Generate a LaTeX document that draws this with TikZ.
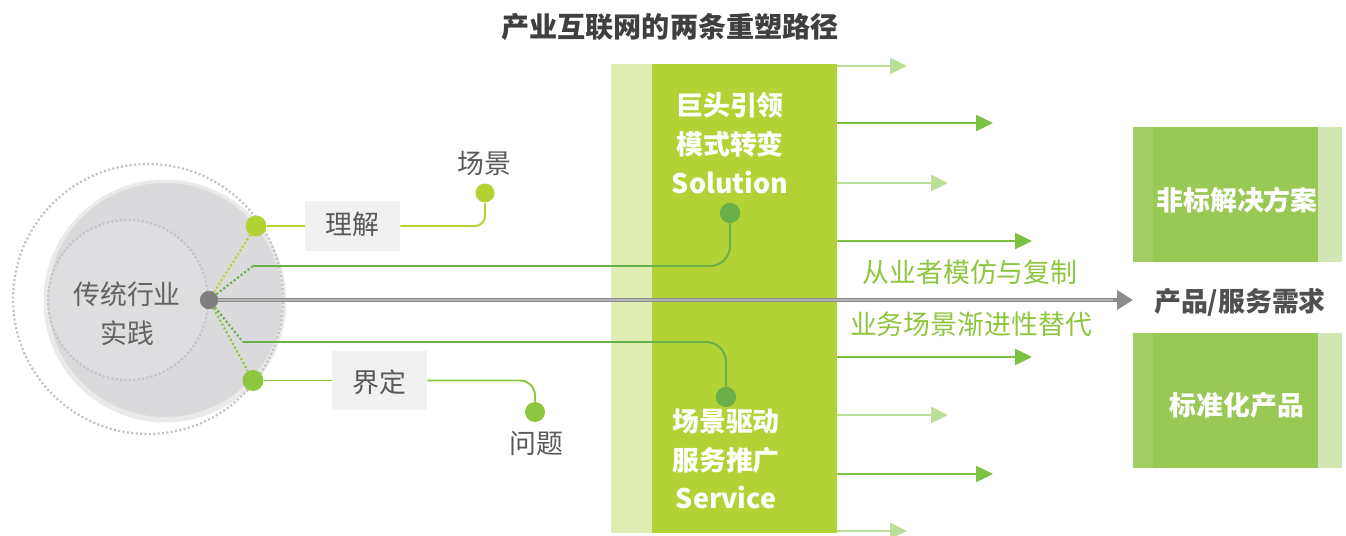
\documentclass[tikz,border=0pt]{standalone}
\usepackage{fontspec}
\setmainfont{Noto Sans CJK SC}
\usetikzlibrary{arrows.meta}
\definecolor{haloc}{HTML}{EAEAEB}
\definecolor{discc}{HTML}{DADADC}
\definecolor{innerc}{HTML}{DEDEE0}
\definecolor{dotc}{HTML}{C4C4C6}
\definecolor{ctext}{HTML}{626262}
\definecolor{lblc}{HTML}{595959}
\definecolor{boxg}{HTML}{F1F1F1}
\definecolor{ygreen}{HTML}{B3D335}
\definecolor{mgreen}{HTML}{8DC63F}
\definecolor{dgreen}{HTML}{6AAF47}
\definecolor{colL}{HTML}{DFEDB3}
\definecolor{colG}{HTML}{B2D235}
\definecolor{arrD}{HTML}{7DC142}
\definecolor{arrL}{HTML}{BADF98}
\definecolor{rbG}{HTML}{98C954}
\definecolor{rbL}{HTML}{A0CE62}
\definecolor{rbR}{HTML}{D1E6B2}
\definecolor{gtxt}{HTML}{8DC63F}
\definecolor{titlec}{HTML}{3F3F3F}
\definecolor{darkt}{HTML}{505050}
\definecolor{cdot}{HTML}{7F7F7F}
\definecolor{shaft}{HTML}{8C8C8C}
\definecolor{shaftL}{HTML}{B4B4B4}
\begin{document}
\begin{tikzpicture}[x=0.02cm,y=-0.02cm,
  txt/.style={inner sep=0pt, font=\fontsize{15.3pt}{22pt}\selectfont},
  boldtxt/.style={inner sep=0pt, font=\fontsize{15.3pt}{22pt}\selectfont\bfseries},
  pxbox/.style={rectangle, inner sep=0pt, draw=none},
  pxdot/.style={circle, inner sep=0pt, minimum size=#1},
  dotline/.style={line width=1.2pt, dash pattern=on 1.2pt off 1.3pt},
  thinline/.style={line width=1.1pt},
  arrowDark/.style={draw=arrD, line width=1.4pt, -{Triangle[length=0.34cm,width=0.32cm,fill=arrD]}},
  arrowLight/.style={draw=arrL, line width=1.4pt, -{Triangle[length=0.34cm,width=0.32cm,fill=arrL]}}
]
\useasboundingbox (0,0) rectangle (1346,536);

% title
\node[inner sep=0pt, font=\fontsize{16pt}{20pt}\selectfont\bfseries, text=titlec] (title) at (670,27) {产业互联网的两条重塑路径};

% left circle group
\node[pxdot=4.86cm, fill=haloc] (halo) at (165,301) {};
\node[pxdot=4.68cm, fill=discc] (disc) at (165,300) {};
\node[pxdot=3.2cm, fill=innerc, draw=dotc, dotline] (inner) at (128,300) {};
\node[pxdot=5.4cm, draw=dotc, dotline, line width=1.3pt] (outer) at (148,299) {};
\node[txt, text=ctext, align=center] (ct) at (127,314) {传统行业\\实践};

% centre column
\node[pxbox, fill=colL, minimum width=4.52cm, minimum height=9.38cm] (colL) at (724,298.5) {};
\node[pxbox, fill=colG, minimum width=3.7cm, minimum height=9.38cm] (col) at (744.5,298.5) {};
\node[boldtxt, text=white, align=center] (soltxt) at (730,143) {巨头引领\\模式转变\\Solution};
\node[boldtxt, text=white, align=center] (svctxt) at (726,459) {场景驱动\\服务推广\\Service};

% right boxes
\node[pxbox, fill=rbR, minimum width=4.18cm, minimum height=2.7cm] (nbA) at (1237.5,194.5) {};
\node[pxbox, fill=rbG, minimum width=3.7cm, minimum height=2.7cm] (nbB) at (1225.5,194.5) {};
\node[pxbox, fill=rbL, minimum width=0.4cm, minimum height=2.7cm] (nbC) at (1143,194.5) {};
\node[boldtxt, text=white] (nbT) at (1237,200) {非标解决方案};
\node[pxbox, fill=rbR, minimum width=4.18cm, minimum height=2.7cm] (sbA) at (1237.5,400.5) {};
\node[pxbox, fill=rbG, minimum width=3.7cm, minimum height=2.7cm] (sbB) at (1225.5,400.5) {};
\node[pxbox, fill=rbL, minimum width=0.4cm, minimum height=2.7cm] (sbC) at (1143,400.5) {};
\node[boldtxt, text=white] (sbT) at (1237,405) {标准化产品};
\node[boldtxt, text=darkt] (need) at (1240,302) {产品/服务需求};

% green captions
\node[txt, text=gtxt] (cap1) at (970,272) {从业者模仿与复制};
\node[txt, text=gtxt] (cap2) at (971,324) {业务场景渐进性替代};

% label boxes
\node[pxbox, fill=boxg, minimum width=1.9cm, minimum height=1.02cm] (bL) at (352.5,226) {};
\node[txt, text=lblc] (bLt) at (352,224) {理解};
\node[pxbox, fill=boxg, minimum width=1.9cm, minimum height=1.18cm] (bJ) at (379.5,380.5) {};
\node[txt, text=lblc] (bJt) at (379,382) {界定};
\node[txt, text=lblc] (lS) at (484,163) {场景};
\node[txt, text=lblc] (lW) at (536,443) {问题};

% dot nodes
\node[pxdot=0.36cm, fill=cdot] (c) at (209,300) {};
\node[pxdot=0.42cm, fill=ygreen] (dL) at (256,226) {};
\node[pxdot=0.42cm, fill=mgreen] (dJ) at (253,380.5) {};
\node[pxdot=0.38cm, fill=ygreen] (ds) at (485,193) {};
\node[pxdot=0.4cm, fill=mgreen] (dw) at (535,412) {};
\node[pxdot=0.4cm, fill=dgreen] (sd) at (730,213) {};
\node[pxdot=0.4cm, fill=dgreen] (vd) at (726,397) {};
\coordinate (ja) at (253,266);
\coordinate (jb) at (243,342);
\coordinate (pa) at (1133,300);

% right arrows
\foreach \yy/\ee/\st [count=\i] in {66/907/arrowLight,123/993/arrowDark,183/948/arrowLight,241/1032/arrowDark,357/1032/arrowDark,415/948/arrowLight,474/993/arrowDark,531/907/arrowLight}{
  \coordinate (a\i) at (\ee,\yy);
  \draw[\st] (col.east |- a\i) -- (a\i);
}

% connectors
\draw[ygreen, dotline] (c) -- (dL);
\draw[dgreen, dotline] (c) -- (ja);
\draw[dgreen, dotline] (c) -- (jb);
\draw[mgreen, dotline] (c) -- (dJ);
\draw[ygreen, thinline] (dL) -- (bL);
\draw[ygreen, thinline, rounded corners=0.2cm] (bL) -| (ds);
\draw[mgreen, thinline] (dJ) -- (bJ);
\draw[mgreen, thinline, rounded corners=0.3cm] (bJ) -| (dw);
\draw[dgreen, thinline, rounded corners=0.4cm] (ja) -| (sd);
\draw[dgreen, thinline, rounded corners=0.4cm] (jb) -| (vd);

% main arrow
\draw[shaft, line width=2.8pt, -{Triangle[length=0.32cm,width=0.38cm,fill=shaft]}] (c) -- (pa);
\draw[shaftL, line width=0.7pt, shorten >=0.4cm] (c) -- (pa);

% redraw dots on top
\node[pxdot=0.36cm, fill=cdot] at (c) {};
\node[pxdot=0.4cm, fill=dgreen] at (sd) {};
\node[pxdot=0.4cm, fill=dgreen] at (vd) {};
\end{tikzpicture}
\end{document}
